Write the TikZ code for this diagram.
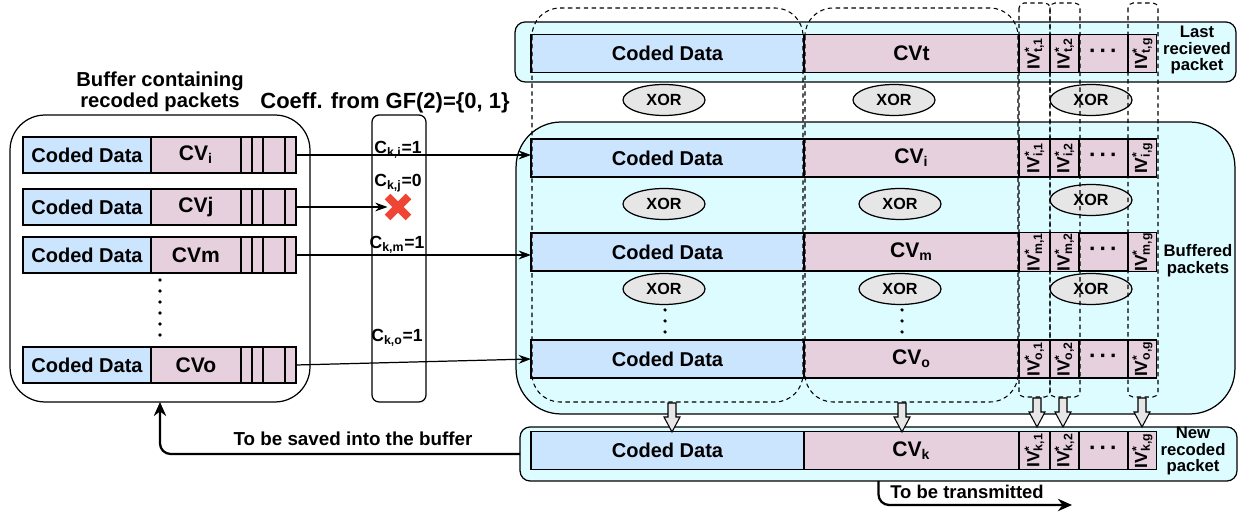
\documentclass[tikz,border=0pt]{standalone}
\usepackage{fontspec}
\usepackage{graphicx}
\setmainfont{Liberation Sans}
\usetikzlibrary{positioning,shapes.geometric,arrows.meta}
\definecolor{cdblue}{HTML}{CCE5FF}
\definecolor{cvpink}{HTML}{E6D0DE}
\definecolor{bgcyan}{HTML}{DDFCFF}
\definecolor{xorgray}{HTML}{E6E6E6}
\definecolor{crossred}{HTML}{EE4535}
\newcommand{\ivl}[1]{\rotatebox{90}{IV\rlap{\textsuperscript{*}}\textsubscript{#1}}}
\newcommand{\celldots}{{\fontsize{13}{13}\selectfont ·\kern1.6pt·\kern1.6pt·}}

\begin{document}
\begin{tikzpicture}[x=0.02cm, y=-0.02cm, line width=0.7pt,
    every node/.style={font=\bfseries, inner sep=0pt, outer sep=0pt},
    cd/.style={draw, fill=cdblue, minimum height=0.76cm, font=\fontsize{11.4}{12}\selectfont\bfseries},
    cv/.style={draw, fill=cvpink, minimum height=0.76cm, font=\fontsize{12}{12}\selectfont\bfseries},
    iv/.style={cv, font=\fontsize{10}{10}\selectfont\bfseries},
    holder/.style={draw, fill=bgcyan, rounded corners=0.2cm},
    xor/.style={draw, ellipse, fill=xorgray, minimum width=1.64cm, minimum height=0.62cm, font=\fontsize{9.2}{9}\selectfont\bfseries},
    side/.style={align=center, font=\fontsize{9.5}{9.5}\selectfont\bfseries},
    coef/.style={font=\fontsize{10}{10}\selectfont\bfseries},
    col/.style={draw, dash pattern=on 2.5pt off 2pt, line width=0.6pt},
    arr/.style={-{Stealth[length=7pt,width=5pt]}},
    bigarr/.style={line width=1.3pt, rounded corners=6pt, -{Stealth[length=8pt,width=7pt]}}]

    \useasboundingbox (0,0) rectangle (1242,516);

    % Containers
    \node[draw, minimum width=6cm, minimum height=5.74cm, rounded corners=0.7cm] (buf) at (160,258.5) {};
    \node[align=center, font=\fontsize{11.5}{12}\selectfont\bfseries] (buftitle) at (160,92) {Buffer containing\\recoded packets};
    \node[draw, minimum width=1.08cm, minimum height=5.74cm, rounded corners=0.14cm] (coeff) at (399,258.5) {};
    \node[font=\fontsize{12.5}{12}\selectfont\bfseries] (coefftitle) at (385,103) {Coeff. from GF(2)=\{0, 1\}};
    \node[holder, minimum width=14.42cm, minimum height=1.2cm] (lastbox) at (875.5,52) {};
    \node[holder, minimum width=14.38cm, minimum height=5.84cm, rounded corners=0.9cm] (bufbox) at (875.5,268) {};
    \node[holder, minimum width=14.34cm, minimum height=1.08cm] (newbox) at (878.5,454) {};

    % Packets in the buffer
    \foreach \r/\y/\cvtext in {i/155/CV\textsubscript{i}, j/207/CVj, m/255/CVm, o/365/CVo}{
        \node[cd, minimum width=2.56cm, minimum height=0.72cm, anchor=west] (lcd\r) at (23,\y) {Coded Data};
        \node[cv, minimum width=1.80cm, minimum height=0.72cm, right=0pt of lcd\r] (lcv\r) {\cvtext};
        \node[cv, minimum width=0.22cm, minimum height=0.72cm, right=0pt of lcv\r] (lca\r) {};
        \node[cv, minimum width=0.22cm, minimum height=0.72cm, right=0pt of lca\r] (lcb\r) {};
        \node[cv, minimum width=0.44cm, minimum height=0.72cm, right=0pt of lcb\r] (lcc\r) {};
        \node[cv, minimum width=0.22cm, minimum height=0.72cm, right=0pt of lcc\r] (lend\r) {};
    }
    \foreach \y in {280,291,302,313,324,335}
        \fill (160,\y) circle (1.1pt);

    % Packets being combined
    \foreach \r/\y/\cvtext in {t/53.5/CVt, i/158/CV\textsubscript{i}, m/252/CV\textsubscript{m}, o/359/CV\textsubscript{o}, k/450.5/CV\textsubscript{k}}{
        \node[cd, minimum width=5.46cm, anchor=west] (cd\r) at (531,\y) {Coded Data};
        \node[cv, minimum width=4.30cm, right=0pt of cd\r] (cv\r) {\cvtext};
        \node[iv, minimum width=0.62cm, right=0pt of cv\r] (iva\r) {\ivl{\r,1}};
        \node[iv, minimum width=0.58cm, right=0pt of iva\r] (ivb\r) {\ivl{\r,2}};
        \node[cv, minimum width=0.98cm, right=0pt of ivb\r] (ivd\r) {\celldots};
        \node[iv, minimum width=0.58cm, right=0pt of ivd\r] (ivg\r) {\ivl{\r,g}};
    }

    % XOR
    \foreach \x/\y/\nm in {664/100/xa, 894/100/xb, 1091/100/xc, 664/204/xd, 900/204/xe, 1091/200/xf, 664/289/xg, 900/289/xh, 1091/289/xi}
        \node[xor] (\nm) at (\x,\y) {XOR};
    \foreach \y in {310,321,332}{
        \fill (665,\y) circle (1pt);
        \fill (902,\y) circle (1pt);
    }

    % Columns
    \draw[col, rounded corners=0.56cm] (532,8) rectangle (803,402);
    \draw[col, rounded corners=0.56cm] (805,8) rectangle (1018,402);
    \draw[col, rounded corners=0.1cm] (1019,3) rectangle (1050,397);
    \draw[col, rounded corners=0.1cm] (1050,3) rectangle (1080,397);
    \draw[col, rounded corners=0.1cm] (1128,3) rectangle (1158,397);

    % Results into the new packet
    \foreach \x/\t in {672/403, 902/403, 1037/398, 1063/398, 1142/398}
        \draw[fill=xorgray, line width=0.6pt] (\x-4,\t) -- (\x+4,\t) -- (\x+4,\t+14) -- (\x+8,\t+14) -- (\x,\t+29) -- (\x-8,\t+14) -- (\x-4,\t+14) -- cycle;

    % Coefficients
    \node[coef] (ci) at (398,150) {C\textsubscript{k,i}=1};
    \node[coef] (cj) at (398,183) {C\textsubscript{k,j}=0};
    \node[coef] (cm) at (397,245) {C\textsubscript{k,m}=1};
    \node[coef] (co) at (397,338) {C\textsubscript{k,o}=1};
    \node[minimum size=0.42cm] (cross) at (398,207) {};
    \draw[arr] (lendi.east) -- (lendi.east -| cdi.west);
    \draw[arr] (lendj.east) -- (cross.west);
    \draw[arr] (lendm.east) -- (lendm.east -| cdm.west);
    \draw[arr] (lendo.east) -- (cdo.west);
    \draw[crossred, line width=4.5pt] (cross.north west) -- (cross.south east);
    \draw[crossred, line width=4.5pt] (cross.north east) -- (cross.south west);

    % Side labels
    \node[side] (lastlab) at (1197,50) {Last\\recieved\\packet};
    \node[side] (buflab) at (1198,261) {Buffered\\packets};
    \node[side] (newlab) at (1193,451) {New\\recoded\\packet};

    % Outputs
    \coordinate (tx) at (1072,505);
    \draw[bigarr] (newbox.west) -| (buf.south);
    \node[font=\fontsize{10.7}{11}\selectfont\bfseries] (savelab) at (353,439) {To be saved into the buffer};
    \draw[bigarr] (newbox.south) |- (tx);
    \node[font=\fontsize{10.5}{11}\selectfont\bfseries] (txlab) at (967,492) {To be transmitted};
\end{tikzpicture}
\end{document}
